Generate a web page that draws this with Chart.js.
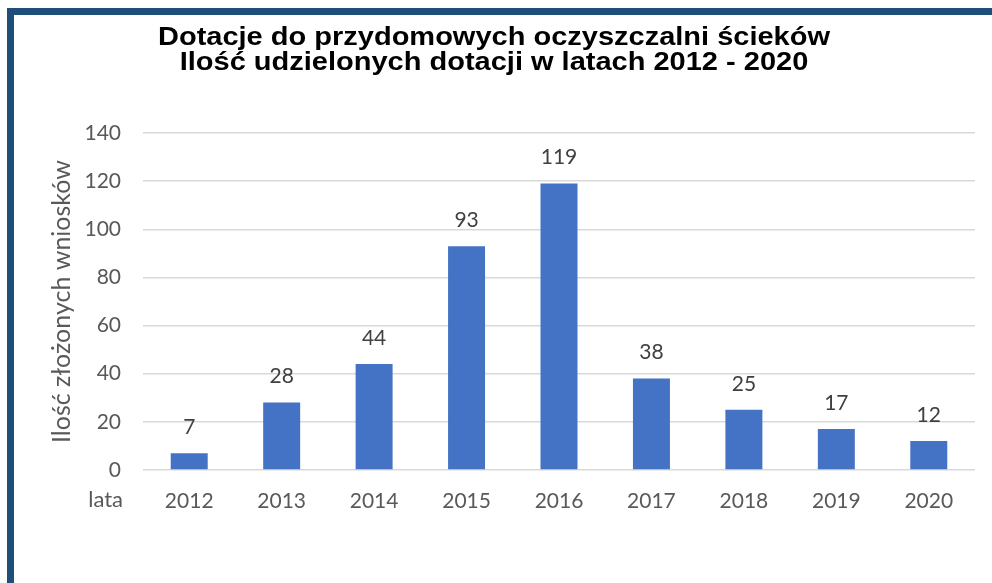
<!DOCTYPE html>
<html>
<head>
<meta charset="utf-8">
<script src="https://cdn.jsdelivr.net/npm/chart.js@4/dist/chart.umd.min.js"></script>
<style>
  html, body { margin: 0; padding: 0; background: #fff; }
  #wrap { position: relative; width: 992px; height: 583px; overflow: hidden; }
  canvas { position: absolute; left: 0; top: 0; }
  #frame { position: absolute; left: 7px; top: 8px; width: 1100px; height: 700px;
           border-left: 7px solid #1F4E79; border-top: 7px solid #1F4E79; pointer-events: none; }
</style>
</head>
<body>
<div id="wrap">
  <canvas id="c" width="992" height="583"></canvas>
  <div id="frame"></div>
</div>
<script>
const titleLines = ["Dotacje do przydomowych oczyszczalni ścieków", "Ilość udzielonych dotacji w latach 2012 - 2020"];
const categories = ["2012", "2013", "2014", "2015", "2016", "2017", "2018", "2019", "2020"];
const values = [7, 28, 44, 93, 119, 38, 25, 17, 12];
const yAxisTitle = "Ilość złożonych wniosków";
const xAxisTitle = "lata";
const yTicks = [0, 20, 40, 60, 80, 100, 120, 140];

const FONT = "Lato, 'Open Sans', sans-serif";

const extras = {
  id: 'extras',
  afterDatasetsDraw(chart) {
    const ctx = chart.ctx;
    const meta = chart.getDatasetMeta(0);
    ctx.save();
    ctx.fillStyle = '#404040';
    ctx.font = '21px ' + FONT;
    ctx.textAlign = 'center';
    ctx.textBaseline = 'middle';
    meta.data.forEach((bar, i) => {
      ctx.fillText(String(values[i]), bar.x, bar.y - 26);
    });
    // x axis title "lata"
    const y = chart.scales.y;
    ctx.fillStyle = '#595959';
    ctx.font = '22px ' + FONT;
    ctx.textAlign = 'right';
    ctx.fillText(xAxisTitle, 123, y.getPixelForValue(0) + 30);
    // chart title (horizontally stretched like the reference)
    ctx.fillStyle = '#000';
    ctx.font = 'bold 25px "Liberation Sans", Arial, sans-serif';
    ctx.textAlign = 'center';
    ctx.textBaseline = 'alphabetic';
    const sx = 1.16, cx = 494;
    ctx.translate(cx, 0);
    ctx.scale(sx, 1);
    ctx.fillText(titleLines[0], 0, 44.5);
    ctx.fillText(titleLines[1], 0, 70);
    ctx.restore();
  }
};

new Chart(document.getElementById('c'), {
  type: 'bar',
  data: {
    labels: categories,
    datasets: [{
      data: values,
      backgroundColor: '#4472C4',
      borderWidth: 0,
      categoryPercentage: 0.8,
      barPercentage: 0.5
    }]
  },
  options: {
    responsive: false,
    animation: false,
    events: [],
    layout: { padding: { left: 0, right: 17, top: 133, bottom: 0 } },
    plugins: { legend: { display: false }, title: { display: false }, tooltip: { enabled: false } },
    scales: {
      x: {
        grid: { display: false },
        border: { display: false },
        ticks: { color: '#595959', font: { family: FONT, size: 21 }, padding: 11 },
        afterFit(s) { s.height = 113; }
      },
      y: {
        min: 0, max: 140,
        afterBuildTicks(s) { s.ticks = yTicks.map(v => ({ value: v })); },
        grid: { color: '#D9D9D9', lineWidth: 1.5, drawTicks: false },
        border: { display: false },
        ticks: { color: '#595959', font: { family: FONT, size: 21 }, padding: 22 },
        title: { display: true, text: yAxisTitle, color: '#595959', font: { family: FONT, size: 25 }, padding: { top: 47, bottom: 0 } },
        afterFit(s) { s.width = 143; }
      }
    }
  },
  plugins: [extras]
});
</script>
</body>
</html>
